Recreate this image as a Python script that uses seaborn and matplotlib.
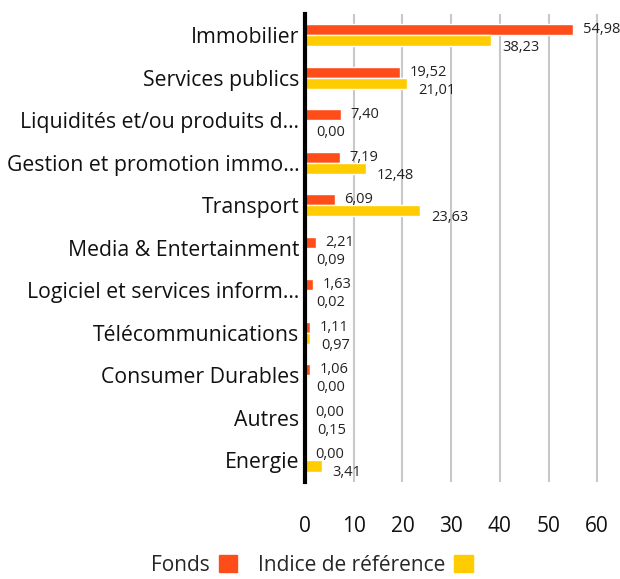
import pandas as pd
import matplotlib
matplotlib.use('Agg')
import matplotlib.pyplot as plt
import seaborn as sns
from matplotlib.patches import Patch

# Données du graphique
secteurs = ['Immobilier', 'Services publics', 'Liquidités et/ou produits d…',
            'Gestion et promotion immo…', 'Transport', 'Media & Entertainment',
            'Logiciel et services inform…', 'Télécommunications', 'Consumer Durables',
            'Autres', 'Energie']
fonds = [54.98, 19.52, 7.40, 7.19, 6.09, 2.21, 1.63, 1.11, 1.06, 0.00, 0.00]
indice = [38.23, 21.01, 0.00, 12.48, 23.63, 0.09, 0.02, 0.97, 0.00, 0.15, 3.41]
series = ['Fonds', 'Indice de référence']
couleurs = ['#FF4D1A', '#FFCC00']

df = pd.DataFrame({'secteur': secteurs * 2,
                   'poids': fonds + indice,
                   'serie': [series[0]] * len(secteurs) + [series[1]] * len(secteurs)})

sns.set_style('white')
plt.rcParams['font.family'] = ['Open Sans', 'DejaVu Sans']

fig = plt.figure(figsize=(6.2, 5.79), dpi=100)
ax = fig.add_axes([0.492, 0.168, 0.487, 0.808])

sns.barplot(data=df, y='secteur', x='poids', hue='serie', palette=couleurs,
            width=0.52, ax=ax, legend=False, saturation=1, orient='h')

# Etiquettes de valeurs
for i, cont in enumerate(ax.containers):
    for bar, val in zip(cont, [fonds, indice][i]):
        y = bar.get_y() + bar.get_height() / 2
        off = (7, 0) if i == 0 else (8, -5)
        ax.annotate(f'{val:.2f}'.replace('.', ','), (bar.get_width(), y),
                    xytext=off, textcoords='offset points', va='center',
                    ha='left', fontsize=10.5, color='#222222')

ax.set_xlim(0, 62)
ax.set_xticks(range(0, 61, 10))
ax.grid(axis='x', color='#c8c8c8', linewidth=1.5)
ax.set_axisbelow(True)
for s in ['top', 'right', 'bottom']:
    ax.spines[s].set_visible(False)
ax.spines['left'].set_color('black')
ax.spines['left'].set_linewidth(3)
ax.set_xlabel('')
ax.set_ylabel('')
ax.tick_params(axis='y', labelsize=15.3, length=0, pad=4, colors='#111111')
ax.tick_params(axis='x', labelsize=15, length=0, pad=25, colors='#111111')

handles = [Patch(color=c) for c in couleurs]
fig.legend(handles, series, loc='center left', bbox_to_anchor=(0.214, 0.024),
           ncol=2, frameon=False, markerfirst=False, fontsize=15,
           handlelength=0.9, handleheight=0.9, columnspacing=1.0, handletextpad=0.4)

plt.savefig('out.png', dpi=100)
